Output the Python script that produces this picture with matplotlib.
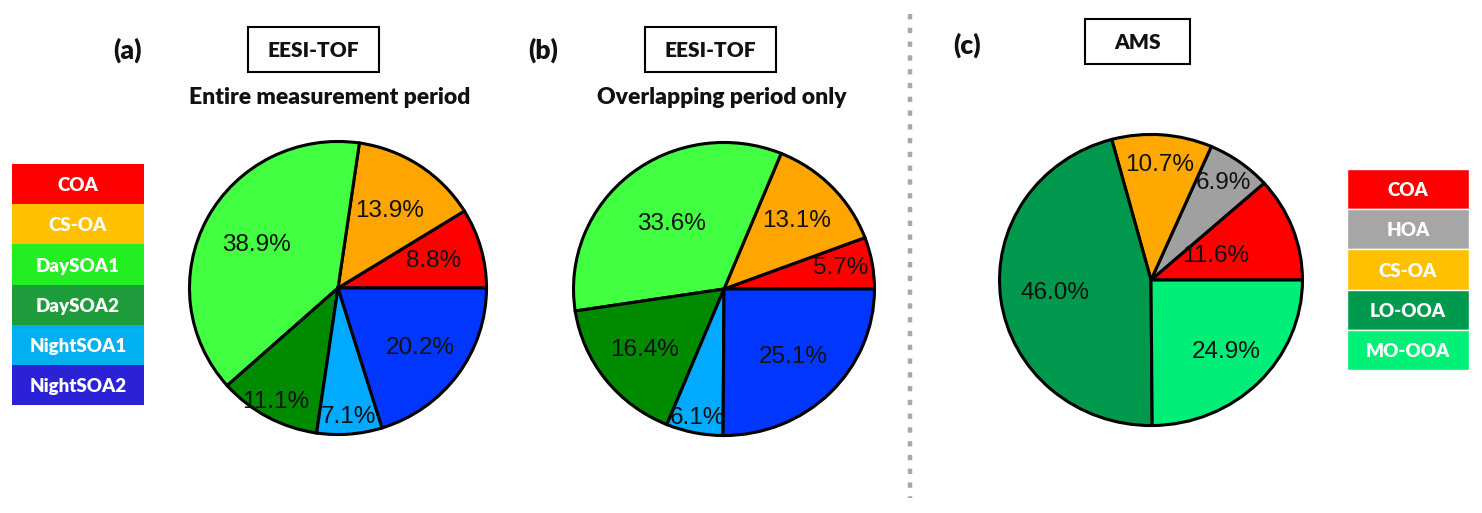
import numpy as np
import matplotlib
matplotlib.use("Agg")
import matplotlib.pyplot as plt
from matplotlib.patches import Rectangle

W, H = 1482, 513
DPI = 100

# ---------------- data ----------------
eesi_cats = ["COA", "CS-OA", "DaySOA1", "DaySOA2", "NightSOA1", "NightSOA2"]
eesi_entire = [8.8, 13.9, 38.9, 11.1, 7.1, 20.2]
eesi_overlap = [5.7, 13.1, 33.6, 16.4, 6.1, 25.1]
ams_cats = ["COA", "HOA", "CS-OA", "LO-OOA", "MO-OOA"]
ams_values = [11.6, 6.9, 10.7, 46.0, 24.9]

# ---------------- style ----------------
eesi_pie_colors = ["#FF0000", "#FFA500", "#42FF42", "#008A00", "#00AAFF", "#0036FF"]
ams_pie_colors = ["#FF0000", "#A0A0A0", "#FFA800", "#00984C", "#00EE78"]
eesi_leg_colors = ["#FF0000", "#FFC000", "#22EE22", "#1E9B3A", "#00B0F0", "#2B22D8"]
ams_leg_colors = ["#FF0000", "#A6A6A6", "#FFC000", "#009A4E", "#00F078"]

# per-label radial distance of the percentage text (fraction of radius)
dist_a = [0.67, 0.63, 0.62, 0.88, 0.88, 0.69]
dist_b = [0.79, 0.67, 0.56, 0.67, 0.90, 0.65]
dist_c = [0.46, 0.82, 0.79, 0.64, 0.70]

BOLD_FONT = ["Lato", "DejaVu Sans"]
PCT_FONT = ["Liberation Sans", "DejaVu Sans"]
HEAVY = "heavy"

fig = plt.figure(figsize=(W / DPI, H / DPI), dpi=DPI)


def px_axes(cx, cy, rx, ry):
    """axes centred at image-pixel (cx, cy) with half sizes rx, ry"""
    return fig.add_axes([(cx - rx) / W, (H - cy - ry) / H, 2 * rx / W, 2 * ry / H])


def draw_pie(cx, cy, rx, ry, values, colors, dists):
    ax = px_axes(cx, cy, rx, ry)
    wedges, texts, autotexts = ax.pie(
        values, colors=colors, startangle=0, counterclock=True,
        autopct="%.1f%%", radius=1.0,
        wedgeprops=dict(edgecolor="black", linewidth=2.2),
        textprops=dict(fontsize=17.5, color="#111111", family=PCT_FONT),
    )
    total = float(np.sum(values))
    cum = np.cumsum([0.0] + list(values))
    for i, t in enumerate(autotexts):
        mid = (cum[i] + values[i] / 2.0) / total * 2 * np.pi
        d = dists[i]
        t.set_position((d * np.cos(mid), d * np.sin(mid)))
        t.set_ha("center")
        t.set_va("center")
    ax.set_aspect("auto")
    ax.set_xlim(-1.01, 1.01)
    ax.set_ylim(-1.01, 1.01)
    ax.axis("off")
    return ax


draw_pie(338, 288, 150, 148, eesi_entire, eesi_pie_colors, dist_a)
draw_pie(724, 289, 152, 148, eesi_overlap, eesi_pie_colors, dist_b)
draw_pie(1151, 280, 153, 147, ams_values, ams_pie_colors, dist_c)


def draw_legend(x0, y0, x1, y1, cats, colors, sep=False):
    ax = fig.add_axes([x0 / W, (H - y1) / H, (x1 - x0) / W, (y1 - y0) / H])
    n = len(cats)
    ypos = np.arange(n)
    ax.barh(ypos, [1] * n, height=1.0, left=0, color=colors,
            edgecolor="white" if sep else "none", linewidth=1.0 if sep else 0)
    for y, c in zip(ypos, cats):
        ax.text(0.5, y + 0.04, c, ha="center", va="center", color="white",
                fontsize=13.5, fontweight=HEAVY, family=BOLD_FONT)
    ax.set_xlim(0, 1)
    ax.set_ylim(n - 0.5, -0.5)
    ax.axis("off")


draw_legend(12, 164, 144, 405, eesi_cats, eesi_leg_colors)
draw_legend(1347, 169, 1469, 370, ams_cats, ams_leg_colors, sep=True)

# ---------------- titles / annotations ----------------
def ftext(x, y, s, **kw):
    fig.text(x / W, 1 - y / H, s, **kw)


for (lx, ly, lab) in [(128, 50, "(a)"), (543, 50, "(b)"), (967, 45, "(c)")]:
    ftext(lx, ly, lab, ha="center", va="center", fontsize=19,
          fontweight=HEAVY, family=BOLD_FONT, color="#111111")


def boxed(x0, y0, x1, y1, s):
    fig.patches.append(Rectangle((x0 / W, 1 - y1 / H), (x1 - x0) / W, (y1 - y0) / H,
                                 transform=fig.transFigure, facecolor="white",
                                 edgecolor="black", linewidth=1.5))
    ftext((x0 + x1) / 2, (y0 + y1) / 2 + 1, s, ha="center", va="center",
          fontsize=15, fontweight=HEAVY, family=BOLD_FONT, color="#111111")


boxed(248, 27, 379, 72, "EESI-TOF")
boxed(645, 27, 776, 72, "EESI-TOF")
boxed(1085, 19, 1190, 64, "AMS")

ftext(330, 98, "Entire measurement period", ha="center", va="center",
      fontsize=16.5, fontweight=HEAVY, family=BOLD_FONT, color="#111111")
ftext(722, 98, "Overlapping period only", ha="center", va="center",
      fontsize=16.5, fontweight=HEAVY, family=BOLD_FONT, color="#111111")

# dotted separator
fig.add_artist(plt.Line2D([910 / W, 910 / W], [1 - 14 / H, 1 - 498 / H],
                          transform=fig.transFigure, color="#A8A8A8",
                          linewidth=3.2, linestyle=(0, (1.2, 1.9))))

fig.savefig("out.png", dpi=DPI)
